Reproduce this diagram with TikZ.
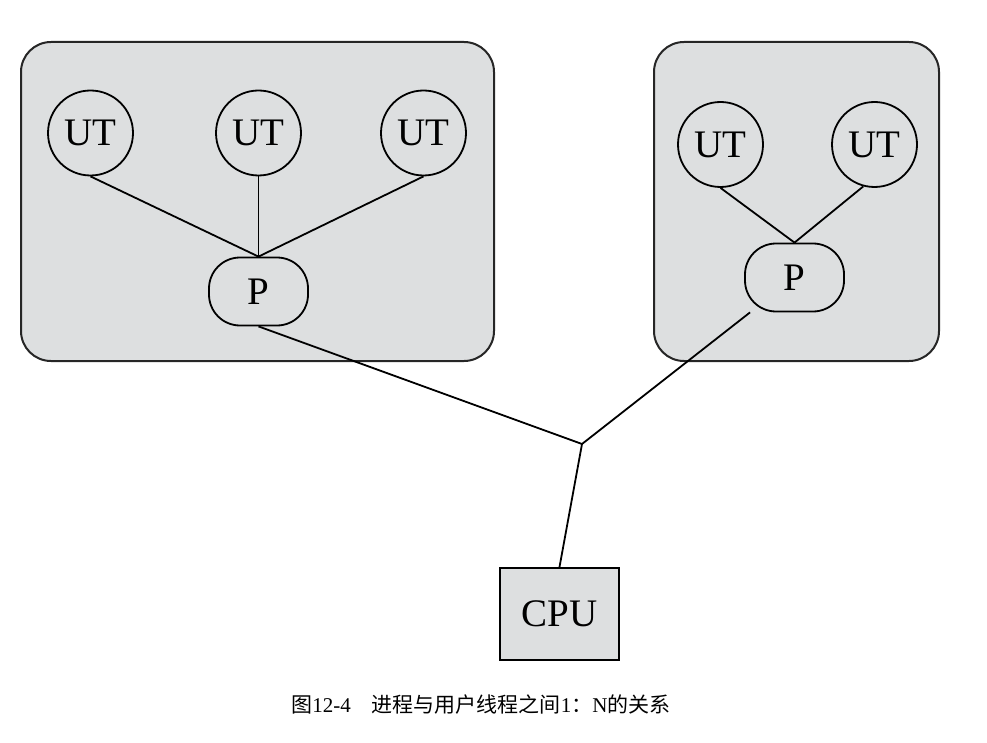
\documentclass[tikz,border=0pt]{standalone}
\usepackage{fontspec}
\setmainfont{Liberation Serif}
\newfontfamily\cjk{Noto Sans CJK SC}
\definecolor{boxgray}{RGB}{221,223,224}
\tikzset{
	proc/.style={draw=black!85,fill=boxgray,line width=2pt,rounded corners=30pt},
	ut/.style={circle,draw,line width=1.8pt,minimum size=85pt,inner sep=0pt,font=\fontsize{39}{39}\selectfont},
	pnode/.style={draw,line width=1.8pt,rounded corners=31pt,minimum width=99pt,minimum height=68pt,inner sep=0pt,font=\fontsize{39}{39}\selectfont},
	link/.style={line width=1.8pt}
}
\begin{document}
\begin{tikzpicture}[x=1pt,y=-1pt]
	\useasboundingbox (0,0) rectangle (987,743);
	% the two processes
	\draw [proc] (21,42) rectangle (494,361);
	\draw [proc] (654,42) rectangle (939,361);
	\node [ut] (utA) at (90.5,133) {UT};
	\node [ut] (utB) at (258.5,133) {UT};
	\node [ut] (utC) at (423.5,133) {UT};
	\node [pnode] (pA) at (258.5,291.5) {P};
	\node [ut] (utD) at (720.5,144.5) {UT};
	\node [ut] (utE) at (874.5,144.5) {UT};
	\node [pnode] (pB) at (794.5,277.5) {P};
	\draw [link] (utA.south) -- (pA.north);
	\draw [link] (utB.south) -- (pA.north);
	\draw [link] (utC.south) -- (pA.north);
	\draw [link] (utD.south) -- (pB.north);
	\draw [link] (utE.255) -- (pB.north);
	% the cpu
	\node [draw,fill=boxgray,line width=2pt,minimum width=119pt,minimum height=92pt,inner sep=0pt,
		font=\fontsize{39}{39}\selectfont] (cpu) at (559.5,614) {CPU};
	\coordinate (join) at (582,444);
	\draw [link] (pA.south) -- (join) -- (pB);
	\draw [link] (join) -- (cpu.north);
	\node [font=\fontsize{21}{21}\selectfont] (cap) at (481,705)
		{{\cjk 图}12-4\quad{\cjk 进程与用户线程之间}1{\cjk ：}N{\cjk 的关系}};
\end{tikzpicture}
\end{document}
